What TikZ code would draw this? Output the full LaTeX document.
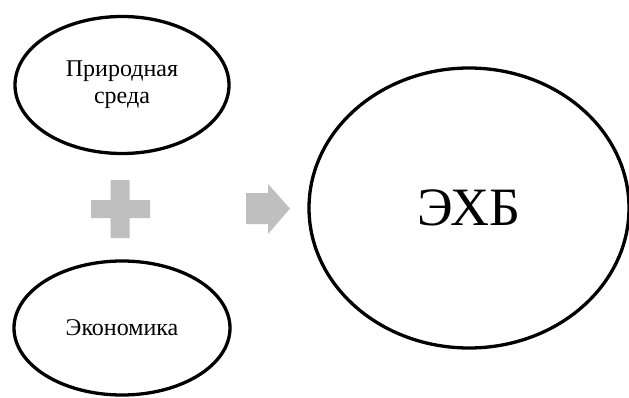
\documentclass[tikz,border=0pt]{standalone}
\usepackage{fontspec}
\setmainfont{Liberation Serif}
\usetikzlibrary{shapes.geometric}
\definecolor{signgray}{HTML}{BFBFBF}
\tikzset{
  oval/.style={draw=black, line width=3.3pt, ellipse, inner sep=0pt, align=center},
  smalltext/.style={font=\fontsize{24}{27}\selectfont},
  bigtext/.style={font=\fontsize{54}{60}\selectfont},
  sign/.style={fill=signgray, draw=none}
}
\begin{document}
\begin{tikzpicture}[x=1pt,y=1pt]
\useasboundingbox (0,0) rectangle (629,397);

% input ovals
\node[oval, smalltext, minimum width=214pt, minimum height=137pt] (nature) at (122,312) {Природная\\среда};
\node[oval, smalltext, minimum width=216pt, minimum height=134pt] (economy) at (122,69) {Экономика};

% result oval
\node[oval, bigtext, minimum width=320pt, minimum height=280pt] (ekhb) at (469,189) {ЭХБ};

% plus sign between the inputs
\fill[sign] (110.5,217) -- (129.5,217) -- (129.5,197) -- (150,197) -- (150,179) -- (129.5,179)
  -- (129.5,159) -- (110.5,159) -- (110.5,179) -- (91,179) -- (91,197) -- (110.5,197) -- cycle;

% arrow towards the result
\fill[sign] (246,204) -- (268,204) -- (268,213) -- (290,188.5) -- (268,163) -- (268,173) -- (246,173) -- cycle;
\end{tikzpicture}
\end{document}
